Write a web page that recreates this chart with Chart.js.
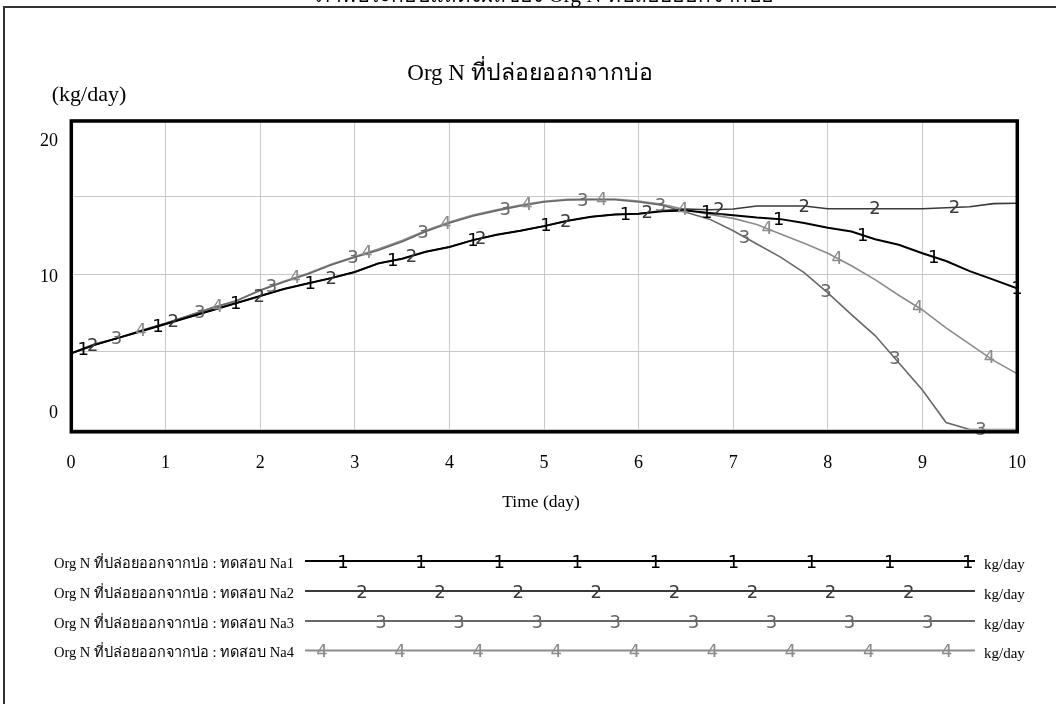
<!DOCTYPE html>
<html>
<head>
<meta charset="utf-8">
<script src="https://cdn.jsdelivr.net/npm/chart.js@4.4.0/dist/chart.umd.min.js"></script>
<style>
  html, body { margin: 0; padding: 0; background: #fff; overflow: hidden; }
  #wrap { position: relative; width: 1056px; height: 704px; }
</style>
</head>
<body>
<div id="wrap"><canvas id="c" width="1056" height="704"></canvas></div>
<script>
// Simulation time (day)
const days = [0,0.25,0.5,0.75,1,1.25,1.5,1.75,2,2.25,2.5,2.75,3,3.25,3.5,3.75,4,4.25,4.5,4.75,5,
              5.25,5.5,5.75,6,6.25,6.5,6.75,7,7.25,7.5,7.75,8,8.25,8.5,8.75,9,9.25,9.5,9.75,10];

// Org N discharged from the pond (kg/day), one run per test
const na1 = [4.9,5.45,5.9,6.35,6.8,7.25,7.7,8.15,8.6,9.05,9.4,9.75,10.15,10.7,11.0,11.45,11.75,12.2,12.55,12.8,13.1,
             13.45,13.7,13.85,13.9,14.05,14.1,13.95,13.8,13.65,13.55,13.3,13.0,12.75,12.25,11.9,11.35,10.85,10.2,9.65,9.09];
const na2 = [4.9,5.45,5.9,6.35,6.8,7.25,7.7,8.15,8.6,9.05,9.4,9.75,10.15,10.7,11.0,11.45,11.75,12.2,12.55,12.8,13.1,
             13.45,13.7,13.85,13.9,14.1,14.2,14.15,14.2,14.4,14.4,14.4,14.22,14.22,14.22,14.22,14.22,14.28,14.35,14.55,14.57];
const na3 = [4.9,5.5,5.9,6.4,6.85,7.35,7.85,8.3,8.95,9.5,10.0,10.6,11.1,11.55,12.1,12.75,13.3,13.75,14.1,14.4,14.65,
             14.78,14.8,14.8,14.65,14.45,14.0,13.55,12.8,11.95,11.1,10.1,8.8,7.4,6.05,4.3,2.55,0.45,0,0,0];
const na4 = [4.9,5.5,5.9,6.4,6.85,7.35,7.85,8.3,8.98,9.55,10.05,10.65,11.15,11.62,12.18,12.82,13.36,13.82,14.16,14.46,14.7,
             14.82,14.85,14.85,14.72,14.5,14.15,13.85,13.6,13.2,12.6,12.0,11.35,10.55,9.65,8.65,7.7,6.55,5.5,4.45,3.6];

const seriesNames = [
  'Org N ที่ปล่อยออกจากบ่อ : ทดสอบ Na1',
  'Org N ที่ปล่อยออกจากบ่อ : ทดสอบ Na2',
  'Org N ที่ปล่อยออกจากบ่อ : ทดสอบ Na3',
  'Org N ที่ปล่อยออกจากบ่อ : ทดสอบ Na4'
];
const seriesDigits = ['1', '2', '3', '4'];
const unitLabel = 'kg/day';
const xTickLabels = [0,1,2,3,4,5,6,7,8,9,10];
const yTickLabels = [0,10,20];
const chartTitle = 'Org N ที่ปล่อยออกจากบ่อ';
const yUnit = '(kg/day)';
const xTitle = 'Time (day)';
const captionText = 'ภาพประกอบแสดงผลของ Org N ที่ปล่อยออกจากบ่อ';

// Where the run-number digits sit along each curve (in days)
const digitDays = [
  [0.13,0.92,1.74,2.53,3.4,4.25,5.02,5.86,6.72,7.48,8.37,9.12,10.0],
  [0.23,1.08,1.99,2.75,3.6,4.33,5.23,6.09,6.85,7.75,8.5,9.34],
  [0.48,1.36,2.12,2.98,3.72,4.59,5.41,6.23,7.12,7.98,8.71,9.62],
  [0.74,1.55,2.37,3.13,3.96,4.82,5.61,6.47,7.36,8.1,8.95,9.71]
];

const lineColors = ['#000000', '#3a3a3a', '#686868', '#8c8c8c'];
const lineWidths = [2, 1.6, 1.6, 1.6];
const SERIF = '"Liberation Serif", "Times New Roman", serif';
const SANS = '"DejaVu Sans", Verdana, sans-serif';

function valueAt(xs, ys, t) {
  if (t <= xs[0]) return ys[0];
  for (let i = 1; i < xs.length; i++) {
    if (t <= xs[i]) {
      const f = (t - xs[i - 1]) / (xs[i] - xs[i - 1]);
      return ys[i - 1] + f * (ys[i] - ys[i - 1]);
    }
  }
  return ys[ys.length - 1];
}

const runs = [na1, na2, na3, na4];
const datasets = runs.map((vals, i) => ({
  label: seriesNames[i],
  data: days.map((d, k) => ({ x: d, y: vals[k] })),
  borderColor: lineColors[i],
  borderWidth: lineWidths[i],
  pointRadius: 0,
  tension: 0,
  fill: false
}));

const decor = {
  id: 'decor',
  afterDatasetsDraw(chart) {
    const ctx = chart.ctx;
    const xs = chart.scales.x, ys = chart.scales.y;
    ctx.save();
    // run-number digits along the curves
    ctx.font = '18px ' + SANS;
    ctx.textAlign = 'center';
    ctx.textBaseline = 'middle';
    runs.forEach((vals, i) => {
      ctx.fillStyle = lineColors[i];
      digitDays[i].forEach(t => {
        const px = xs.getPixelForValue(t);
        const py = ys.getPixelForValue(valueAt(days, vals, t));
        ctx.fillText(seriesDigits[i], px, py + 1);
      });
    });
    ctx.restore();
  },
  afterDraw(chart) {
    const ctx = chart.ctx;
    const ca = chart.chartArea;
    const xs = chart.scales.x, ys = chart.scales.y;
    ctx.save();

    // outer frame
    ctx.strokeStyle = '#333';
    ctx.lineWidth = 2;
    ctx.beginPath();
    ctx.moveTo(1056, 7); ctx.lineTo(4, 7); ctx.lineTo(4, 704);
    ctx.stroke();

    // caption above the frame (partly outside the page)
    ctx.fillStyle = '#000';
    ctx.font = '21px ' + SERIF;
    ctx.textAlign = 'center';
    ctx.textBaseline = 'alphabetic';
    ctx.fillText(captionText, 545, 2);

    // plot frame
    ctx.strokeStyle = '#000';
    ctx.lineWidth = 3.5;
    ctx.strokeRect(ca.left + 0.3, ca.top + 2, ca.right - ca.left, ca.bottom - ca.top + 0.3);

    // title and unit
    ctx.fillStyle = '#000';
    ctx.font = '23px ' + SERIF;
    ctx.textAlign = 'center';
    ctx.textBaseline = 'middle';
    ctx.fillText(chartTitle, 530, 74);
    ctx.font = '22px ' + SERIF;
    ctx.fillText(yUnit, 89, 95);

    // y labels (spread inside the frame)
    ctx.font = '18px ' + SERIF;
    ctx.textAlign = 'right';
    yTickLabels.forEach(v => {
      const f = (v - ys.min) / (ys.max - ys.min);
      const shift = -16.4 + f * (22.7 + 16.4);
      ctx.fillText(String(v), 58, ys.getPixelForValue(v) + shift);
    });

    // x labels
    ctx.textAlign = 'center';
    xTickLabels.forEach(v => {
      ctx.fillText(String(v), xs.getPixelForValue(v), 463);
    });
    ctx.font = '17.5px ' + SERIF;
    ctx.fillText(xTitle, 541, 502);

    // legend rows
    const rowY = [561, 591, 621, 650.5];
    const digitStart = [343, 362, 381, 322];
    const digitCount = [9, 8, 8, 9];
    rowY.forEach((y, i) => {
      ctx.font = '14.5px ' + SERIF;
      ctx.fillStyle = '#000';
      ctx.textAlign = 'right';
      ctx.textBaseline = 'middle';
      ctx.fillText(seriesNames[i], 294, y + 3);
      ctx.font = '15px ' + SERIF;
      ctx.textAlign = 'left';
      ctx.fillText(unitLabel, 984, y + 4);
      ctx.strokeStyle = lineColors[i];
      ctx.lineWidth = 2;
      ctx.beginPath();
      ctx.moveTo(305, y); ctx.lineTo(975, y);
      ctx.stroke();
      ctx.font = '18px ' + SANS;
      ctx.fillStyle = lineColors[i];
      ctx.textAlign = 'center';
      for (let k = 0; k < digitCount[i]; k++) {
        ctx.fillText(seriesDigits[i], digitStart[i] + k * 78.1, y + 2);
      }
    });
    ctx.restore();
  }
};

new Chart(document.getElementById('c'), {
  type: 'line',
  data: { datasets },
  options: {
    responsive: false,
    animation: false,
    devicePixelRatio: 1,
    layout: { padding: { left: 71, right: 39, top: 119, bottom: 274.5 } },
    plugins: { legend: { display: false }, tooltip: { enabled: false } },
    scales: {
      x: {
        type: 'linear', min: 0, max: 10,
        ticks: { display: false, stepSize: 1 },
        grid: { color: '#c8c8c8', lineWidth: 1, drawTicks: false },
        border: { display: false }
      },
      y: {
        type: 'linear', min: 0, max: 20,
        ticks: { display: false, stepSize: 5 },
        grid: { color: '#c8c8c8', lineWidth: 1, drawTicks: false },
        border: { display: false }
      }
    }
  },
  plugins: [decor]
});
</script>
</body>
</html>
